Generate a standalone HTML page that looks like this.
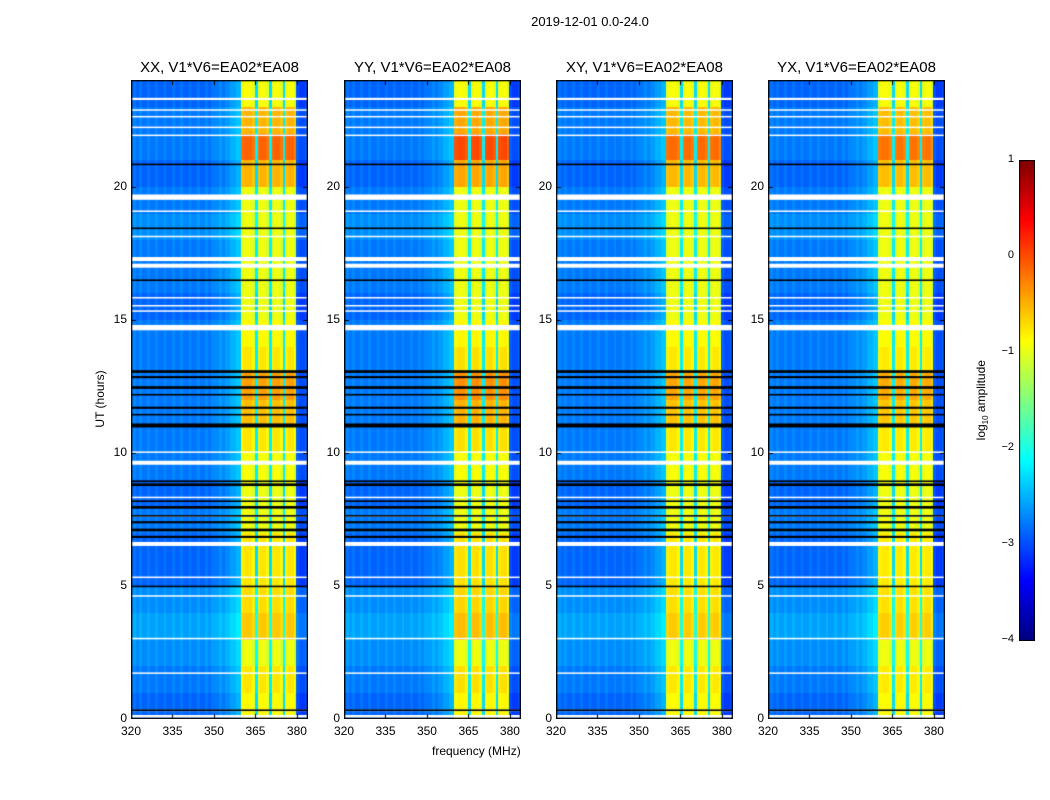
<!DOCTYPE html>
<html><head><meta charset="utf-8">
<style>
body{margin:0;background:#fff;width:1050px;height:800px;position:relative;overflow:hidden;font-family:"Liberation Sans",sans-serif;color:#000}
.t{position:absolute;white-space:nowrap}
canvas{position:absolute}
</style></head>
<body>
<div class="t" style="left:0;width:1180px;top:14px;text-align:center;font-size:13px">2019-12-01 0.0-24.0</div>
<div class="t" style="left:432px;top:744px;font-size:12px">frequency (MHz)</div>
<div class="t" style="left:50px;top:392px;font-size:12px;transform:rotate(-90deg);transform-origin:center;width:100px;text-align:center">UT (hours)</div>
<div class="t" style="left:932px;top:392px;font-size:12px;transform:rotate(-90deg);width:100px;text-align:center">log<sub style="font-size:8px">10</sub> amplitude</div>
<canvas id="cb" width="16" height="481" style="left:1019px;top:160px"></canvas>
<div id="root"></div>
<script>
const panelTitles=["XX, V1*V6=EA02*EA08","YY, V1*V6=EA02*EA08","XY, V1*V6=EA02*EA08","YX, V1*V6=EA02*EA08"];
const panelLefts=[131,344,556,768];
const xTicks=[320,335,350,365,380];
const yTicks=[0,5,10,15,20];
const cbTicks=[1,0,-1,-2,-3,-4];
// log10 amplitude per 1-MHz channel, 320..383 MHz
const freqLevel=[-2.9,-2.8,-2.9,-2.8,-2.9,-2.9,-2.8,-2.9,-2.9,-2.8,-2.9,-2.9,-2.8,-2.9,-2.9,-2.8,-2.9,-2.9,-2.8,-2.9,-2.9,-2.8,-2.9,-2.9,-2.8,-2.9,-2.9,-2.8,-2.9,-2.8,-2.8,-2.8,-2.7,-2.8,-2.7,-2.7,-2.6,-2.6,-2.5,-2.5,
-1.0,-0.95,-0.95,-0.95,-1.05,-2.3,-1.0,-0.95,-0.95,-1.05,-2.3,-1.0,-0.95,-0.95,-1.05,-2.3,-1.0,-0.95,-0.95,-1.1,-3.0,-3.1,-3.1,-3.0];
// background variation per hour 0..23
const bgHour=[0.0,0.1,0.2,0.3,0.2,0.0,0.0,0.1,0.0,0.1,0.1,0.1,0.1,0.1,0.1,0.0,0.1,0.1,0.2,0.1,0.0,0.1,0.1,0.0];
// band boost per hour 0..23
const bandHour=[0.1,0.2,0.0,0.35,0.25,0.2,0.2,0.0,0.0,0.05,0.2,0.4,0.55,0.2,0.1,0.0,0.0,0.0,0.0,0.0,0.45,0.85,0.45,0.05];
const panelGain=[1.0,1.15,0.95,0.9];
const whiteFlags=[[0.05,0.1],[0.3,0.05],[1.7,0.05],[3.0,0.05],[4.6,0.05],[5.3,0.05],[6.5,0.15],[7.6,0.05],[8.3,0.05],[9.55,0.15],[10.0,0.05],[14.6,0.2],[15.3,0.05],[15.5,0.05],[15.8,0.05],[16.95,0.15],[17.2,0.15],[18.1,0.05],[19.05,0.05],[19.5,0.2],[21.9,0.05],[22.2,0.05],[22.6,0.05],[22.85,0.05],[23.25,0.08]];
const blackFlags=[[0.3,0.06],[4.95,0.06],[6.8,0.08],[7.05,0.1],[7.35,0.08],[7.6,0.06],[7.9,0.1],[8.15,0.06],[8.75,0.1],[8.9,0.06],[10.95,0.15],[11.4,0.06],[11.65,0.08],[12.15,0.06],[12.4,0.1],[12.8,0.08],[13.0,0.1],[16.45,0.06],[18.4,0.06],[20.8,0.06]];

const PT=80,PB=719,PW=177,HM=24,FMIN=320,FMAX=384;
function jet(t){t=Math.max(0,Math.min(1,t));const c=x=>Math.round(255*Math.max(0,Math.min(1,1.5-Math.abs(x))));return `rgb(${c(4*t-3)},${c(4*t-2)},${c(4*t-1)})`;}
function col(v){return jet((v+4)/5);}
const yS=h=>PB-(h/HM)*(PB-PT);
const xS=f=>(f-FMIN)/(FMAX-FMIN)*PW;
const root=document.getElementById('root');
panelLefts.forEach((L,p)=>{
  const cv=document.createElement('canvas');
  
  
  cv.width=PW;cv.height=PB-PT;
  cv.style.left=L+'px';cv.style.top=PT+'px';
  root.appendChild(cv);
  const g=cv.getContext('2d');
  for(let h=0;h<HM;h++){
    for(let c=0;c<freqLevel.length;c++){
      const band=freqLevel[c]>-1.5;
      const v=freqLevel[c]+(band?bandHour[h]*panelGain[p]:bgHour[h]);
      g.fillStyle=col(v);
      const x0=xS(FMIN+c),x1=xS(FMIN+c+1),y0=yS(h+1)-PT,y1=yS(h)-PT;
      g.fillRect(Math.floor(x0),Math.floor(y0),Math.ceil(x1)-Math.floor(x0),Math.ceil(y1)-Math.floor(y0));
    }
  }
  whiteFlags.forEach(([h,w])=>{g.fillStyle='#fff';const a=yS(h+w)-PT,b=yS(h)-PT;g.fillRect(0,a,PW,Math.max(1.5,b-a));});
  blackFlags.forEach(([h,w])=>{g.fillStyle='#000';const a=yS(h+w)-PT,b=yS(h)-PT;g.fillRect(0,a,PW,Math.max(1.2,b-a));});
  g.strokeStyle='#000';g.lineWidth=1.5;g.strokeRect(0.5,0.5,PW-1,PB-PT-1);
  g.lineWidth=1;
  xTicks.forEach(f=>{const x=Math.round(xS(f))+0.5;g.beginPath();g.moveTo(x,PB-PT);g.lineTo(x,PB-PT-5);g.moveTo(x,0);g.lineTo(x,5);g.stroke();
    const d=document.createElement('div');d.className='t';
    
    
    d.style.cssText=`left:${L+xS(f)-15}px;width:30px;text-align:center;top:724px;font-size:12px`;d.textContent=f;root.appendChild(d);});
  yTicks.forEach(h=>{const y=Math.round(yS(h)-PT)+0.5;g.beginPath();g.moveTo(0,y);g.lineTo(5,y);g.moveTo(PW,y);g.lineTo(PW-5,y);g.stroke();
    const d=document.createElement('div');d.className='t';
    
    
    d.style.cssText=`left:${L-34}px;width:30px;text-align:right;top:${yS(h)-8}px;font-size:12px`;d.textContent=h;root.appendChild(d);});
  const t=document.createElement('div');t.className='t';
  
  
  t.style.cssText=`left:${L-20}px;width:${PW+40}px;text-align:center;top:59px;font-size:15px`;t.textContent=panelTitles[p];root.appendChild(t);
});
const cb=document.getElementById('cb').getContext('2d');
for(let y=0;y<481;y++){cb.fillStyle=col(1-5*y/480);cb.fillRect(0,y,16,1);}
cb.strokeStyle='#000';cb.strokeRect(0.5,0.5,15,480);
cbTicks.forEach(v=>{const y=160+(1-v)/5*480;
  const d=document.createElement('div');d.className='t';
  
  
  d.style.cssText=`left:998px;width:16px;text-align:right;top:${y-7}px;font-size:11px`;d.textContent=v<0?'\u2212'+(-v):v;root.appendChild(d);});
</script>
</body></html>
